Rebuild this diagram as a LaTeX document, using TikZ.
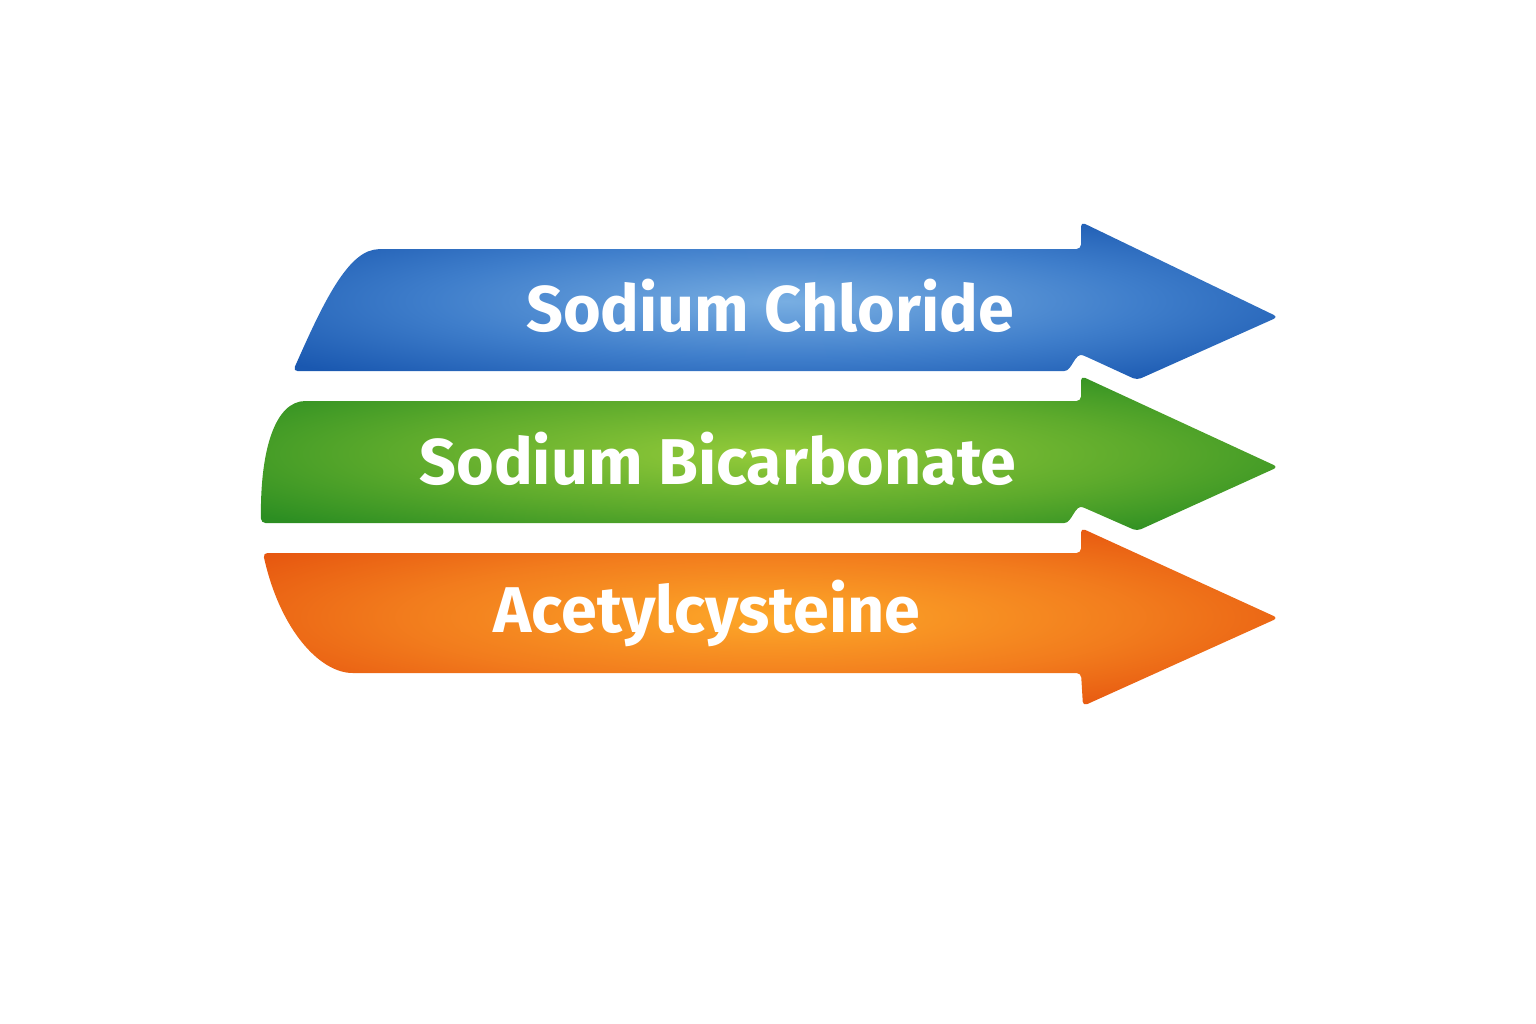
\documentclass[tikz,border=0pt]{standalone}
\usepackage{fontspec}
\setmainfont{Fira Sans}
\usepackage{xcolor}
\usetikzlibrary{positioning}

\definecolor{bluein}{HTML}{78AEE2}
\definecolor{bluemid}{HTML}{3F7ECB}
\definecolor{blueout}{HTML}{1A58B0}
\definecolor{greenin}{HTML}{94CB3A}
\definecolor{greenmid}{HTML}{5EAB2C}
\definecolor{greenout}{HTML}{2C8E22}
\definecolor{orangein}{HTML}{FDA829}
\definecolor{orangemid}{HTML}{F27C1D}
\definecolor{orangeout}{HTML}{E5520E}

\pgfdeclareradialshading{blueband}{\pgfpoint{0bp}{0bp}}{color(0bp)=(bluein); color(18bp)=(bluemid); color(32bp)=(blueout); color(50bp)=(blueout)}
\pgfdeclareradialshading{greenband}{\pgfpoint{0bp}{0bp}}{color(0bp)=(greenin); color(18bp)=(greenmid); color(32bp)=(greenout); color(50bp)=(greenout)}
\pgfdeclareradialshading{orangeband}{\pgfpoint{0bp}{0bp}}{color(0bp)=(orangein); color(18bp)=(orangemid); color(32bp)=(orangeout); color(50bp)=(orangeout)}

\tikzset{
  band/.style={rounded corners=2.5pt},
  bandlabel/.style={text=white, font=\fontsize{36.8}{40}\selectfont\bfseries, anchor=base}
}

\begin{document}
\begin{tikzpicture}[x=0.02cm, y=-0.02cm]
        % Canvas 1536 x 1024 px, y downwards
        \useasboundingbox (0,0) rectangle (1536,1024);
        % Top band
        \path[band, shading=blueband]
          (700,249) -- (1081,249) -- (1081,222) -- (1278,317) -- (1137,380) -- (1087,357)
          .. controls (1075,352) and (1072,371) .. (1060,371) -- (293,371)
          .. controls (320,310) and (345,255) .. (378,249) -- cycle;
        % Middle band
        \path[band, shading=greenband]
          (700,401) -- (1081,401) -- (1081,376) -- (1278,467) -- (1137,531) -- (1087,509)
          .. controls (1075,504) and (1072,523) .. (1060,523) -- (261,523)
          .. controls (260,450) and (275,401) .. (310,401) -- cycle;
        % Bottom band
        \path[band, shading=orangeband]
          (700,553) -- (1081,553) -- (1081,528) -- (1278,618) -- (1083,706) -- (1081,673)
          -- (357,673) .. controls (320,673) and (280,630) .. (263,553) -- cycle;
        % Labels
        \node[bandlabel] (nacl) at (770,331) {Sodium Chloride};
        \node[bandlabel] (nahco) at (718,484) {Sodium Bicarbonate};
        \node[bandlabel] (nac) at (707,632) {Acetylcysteine};
      \end{tikzpicture}
\end{document}
